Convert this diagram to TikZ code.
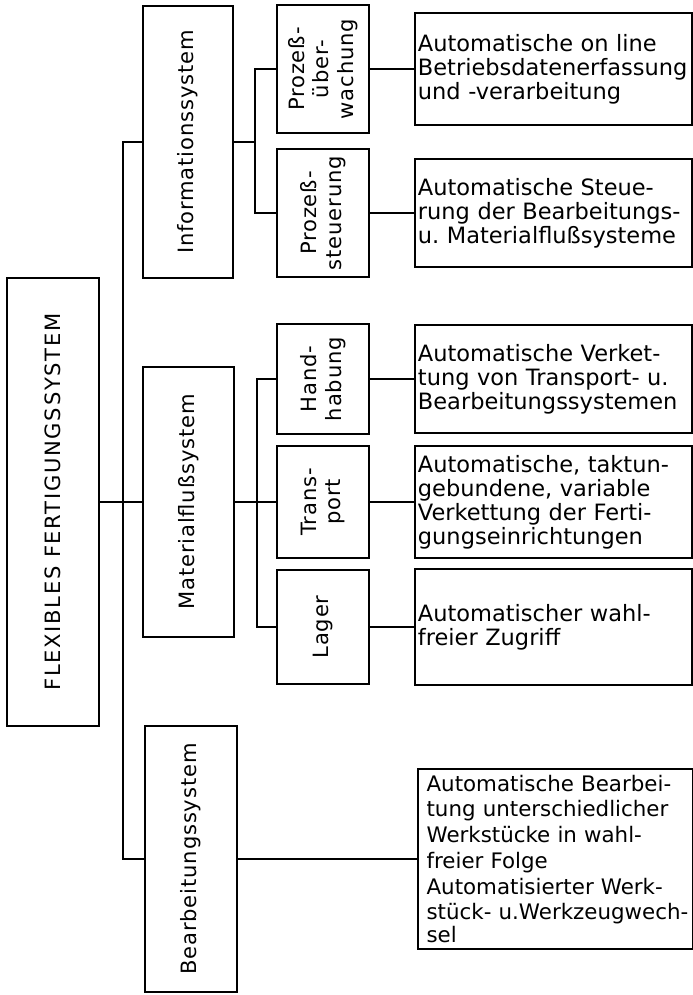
\documentclass[tikz,border=0pt]{standalone}
\usepackage{fontspec}
\setmainfont{DejaVu Sans}[LetterSpace=4]
\newfontfamily\titlefont{DejaVu Sans}[LetterSpace=8]
\newfontfamily\descfont{DejaVu Sans}
\usetikzlibrary{positioning}

\begin{document}
\begin{tikzpicture}
    [
        x=0.025cm, y=-0.025cm,
        node distance=1.1cm,
        block/.style={draw, rectangle, line width=1.5pt, rotate=90, align=center, inner sep=0pt,
            font=\fontsize{15}{17.5}\selectfont},
        subblock/.style={block, minimum height=2.3cm},
        desc/.style={draw, rectangle, line width=1.5pt, align=left, inner xsep=2pt,
            text width=6.78cm, font=\descfont\fontsize{16}{17}\selectfont},
        link/.style={line width=0.9pt}
    ]
        \useasboundingbox (0,0) rectangle (692,995);
        % =========================================================================
        % NODES
        % =========================================================================
        % --- Level 0 ---
        \node [block, minimum width=11.2cm, minimum height=2.3cm,
            font=\titlefont\fontsize{15}{18}\selectfont] (fms) at (53,502) {FLEXIBLES FERTIGUNGSSYSTEM};
        % --- Level 1 ---
        \node [block, minimum width=6.8cm, minimum height=2.25cm] (info) at (188,142) {Informationssystem};
        \node [block, minimum width=6.75cm, minimum height=2.28cm] (mat) at (188.5,502) {Materialflußsystem};
        \node [block, minimum width=6.65cm, minimum height=2.3cm] (bearb) at (191,859) {Bearbeitungssystem};
        % --- Level 2 ---
        \node [subblock, minimum width=3.18cm] (pue) at (323,69) {Prozeß-\\über-\\wachung};
        \node [subblock, minimum width=3.18cm] (pst) at (323,213) {Prozeß-\\steuerung};
        \node [subblock, minimum width=2.75cm] (hand) at (323,379) {Hand-\\habung};
        \node [subblock, minimum width=2.8cm] (trans) at (323,502) {Trans-\\port};
        \node [subblock, minimum width=2.85cm] (lager) at (323,627) {Lager};
        % --- Level 3 ---
        \node [desc, minimum height=2.78cm, right=of pue.south] (d1)
            {Automatische on line\\Betriebsdatenerfassung\\und -verarbeitung};
        \node [desc, minimum height=2.7cm, right=of pst.south] (d2)
            {Automatische Steue-\\rung~der~Bearbeitungs-\\u.~Materialflußsysteme};
        \node [desc, minimum height=2.72cm, right=of hand.south] (d3)
            {Automatische Verket-\\tung~von~Transport-~u.\\Bearbeitungssystemen};
        \node [desc, minimum height=2.8cm, right=of trans.south] (d4)
            {Automatische, taktun-\\gebundene, variable\\Verkettung~der~Ferti-\\gungseinrichtungen};
        \node [desc, minimum height=2.88cm, right=of lager.south] (d5)
            {Automatischer wahl-\\freier Zugriff};
        \node [desc, minimum height=4.52cm, inner xsep=6pt, inner ysep=1pt, text width=6.45cm,
            font=\descfont\fontsize{15.2}{18.3}\selectfont, right=4.475cm of bearb.south] (d6)
            {\mbox{Automatische Bearbei-}\\\mbox{tung unterschiedlicher}\\\mbox{Werkstücke in wahl-}\\freier Folge\\\mbox{Automatisierter Werk-}\\\mbox{stück- u.Werkzeugwech-}\\[-2pt]sel};
        % --- Joints ---
        \coordinate (trunk) at (123,142);
        \coordinate (infojoint) at (255,142);
        \coordinate (matjoint) at (257,502);

        % =========================================================================
        % PATHS
        % =========================================================================
        % --- TRUNK ---
        \draw [link] (info.north) -- (trunk) |- (bearb.north);
        \draw [link] (fms.south) -- (mat.north);
        % --- BRANCHES ---
        \draw [link] (info.south) -- (infojoint);
        \draw [link] (pue.north) -| (infojoint) |- (pst.north);
        \draw [link] (mat.south) -- (trans.north);
        \draw [link] (hand.north) -| (matjoint) |- (lager.north);
        % --- DESCRIPTIONS ---
        \draw [link] (pue.south) -- (d1.west);
        \draw [link] (pst.south) -- (d2.west);
        \draw [link] (hand.south) -- (d3.west);
        \draw [link] (trans.south) -- (d4.west);
        \draw [link] (lager.south) -- (d5.west);
        \draw [link] (bearb.south) -- (d6.west);
    \end{tikzpicture}
\end{document}
